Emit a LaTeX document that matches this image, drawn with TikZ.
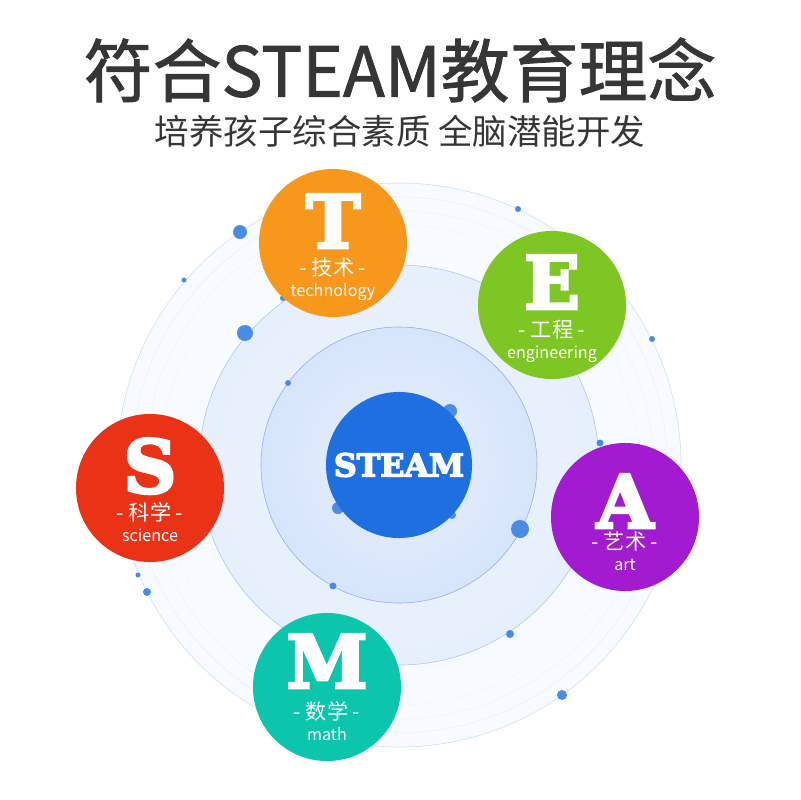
\documentclass[tikz,border=0pt]{standalone}
\usepackage{fontspec}
\setmainfont{Noto Sans CJK SC}
\newfontfamily\titlefont{Noto Sans CJK SC}[FakeBold=1.2]
\newfontfamily\letterfont{DejaVu Serif Bold}
\newcommand\heavy[2]{\special{pdf:literal direct 2 Tr #1 w}#2\special{pdf:literal direct 0 Tr}}
\definecolor{titlegray}{HTML}{363636}
\definecolor{dotblue}{HTML}{4A8BE3}
\definecolor{ringline}{HTML}{A9C6F0}
\definecolor{outerfill}{HTML}{F7FAFE}
\definecolor{midfill}{HTML}{EEF4FD}
\definecolor{midedge}{HTML}{E6EFFC}
\definecolor{innerfill}{HTML}{E8F0FC}
\definecolor{inneredge}{HTML}{D6E5FA}
\definecolor{steamblue}{HTML}{1E6FDF}
\definecolor{torange}{HTML}{F7981D}
\definecolor{egreen}{HTML}{7EC623}
\definecolor{sred}{HTML}{EA3217}
\definecolor{apurple}{HTML}{A21BD0}
\definecolor{mteal}{HTML}{0BC5AC}
\begin{document}
\begin{tikzpicture}[x=0.025cm, y=-0.025cm]
\tikzset{
  ball/.style={circle, minimum size=3.7cm, inner sep=0pt},
  dot/.style={circle, fill=dotblue, inner sep=0pt},
  bigletter/.style={text=white, inner sep=0pt, text height=38pt, text depth=0pt, font=\letterfont\fontsize{52}{52}\selectfont},
  cnlabel/.style={text=white, inner sep=0pt, text height=11pt, text depth=1.5pt, font=\fontsize{15}{15}\selectfont},
  enlabel/.style={text=white, inner sep=0pt, text height=8.5pt, text depth=2.5pt, font=\fontsize{11.5}{11.5}\selectfont}
}
\useasboundingbox[fill=white] (0,0) rectangle (800,800);
% title
\node[text=titlegray, font=\titlefont\fontsize{49}{49}\selectfont] (title) at (400,70) {\heavy{0.6}{符合STEAM教育理念}};
\node[text=titlegray, font=\fontsize{24.5}{24.5}\selectfont] (subtitle) at (400,131) {培养孩子综合素质 全脑潜能开发};
% rings
\coordinate (c) at (399,465);
\fill[outerfill] (c) circle [radius=282];
\foreach \r/\o in {268/25,254/20,240/15,226/10} \draw[ringline!\o] (c) circle [radius=\r];
\draw[ringline!60] (c) circle [radius=282];
\shade[inner color=midfill, outer color=midedge] (c) circle [radius=200];
\draw[ringline] (c) circle [radius=200];
\shade[inner color=innerfill, outer color=inneredge] (c) circle [radius=138];
\draw[ringline!85!blue] (c) circle [radius=138];
% dots
\foreach \x/\y/\s [count=\i] in {240/232/14, 184/280/5, 245/333/16, 283/298/6, 518/209/6,
  652/339/6, 288/383/6, 450/411/14, 338/508/12, 452/515/8, 600/443/7, 520/529/18,
  138/575/5, 147/592/8, 333/586/7, 510/634/8, 562/695/10}
  \node[dot, minimum size=\s*0.025cm] (d\i) at (\x,\y) {};
% center
\node[ball, fill=steamblue, minimum size=3.65cm, text=white,
  font=\letterfont\fontsize{22.5}{22.5}\selectfont] (steam) at (c) {\heavy{1.0}{STEAM}};
% letters
\foreach \n/\x/\y/\col/\L/\cn/\en/\a in {
  t/333/243/torange/T/技术/technology/-22,
  e/552/305/egreen/E/工程/engineering/-23,
  s/150/488/sred/S/科学/science/-22,
  a/625/517/apurple/A/艺术/art/-16,
  m/327/687/mteal/M/数学/math/-26}
{
  \node[ball, fill=\col] (\n) at (\x,\y) {};
  \node[bigletter] (\n-letter) at ([yshift=-\a*0.025cm]\n.center) {\heavy{2.2}{\L}};
  \node[cnlabel] (\n-cn) at ([yshift=-26*0.025cm]\n.center) {- \cn\ -};
  \node[enlabel] (\n-en) at ([yshift=-49*0.025cm]\n.center) {\en};
}
\end{tikzpicture}
\end{document}
